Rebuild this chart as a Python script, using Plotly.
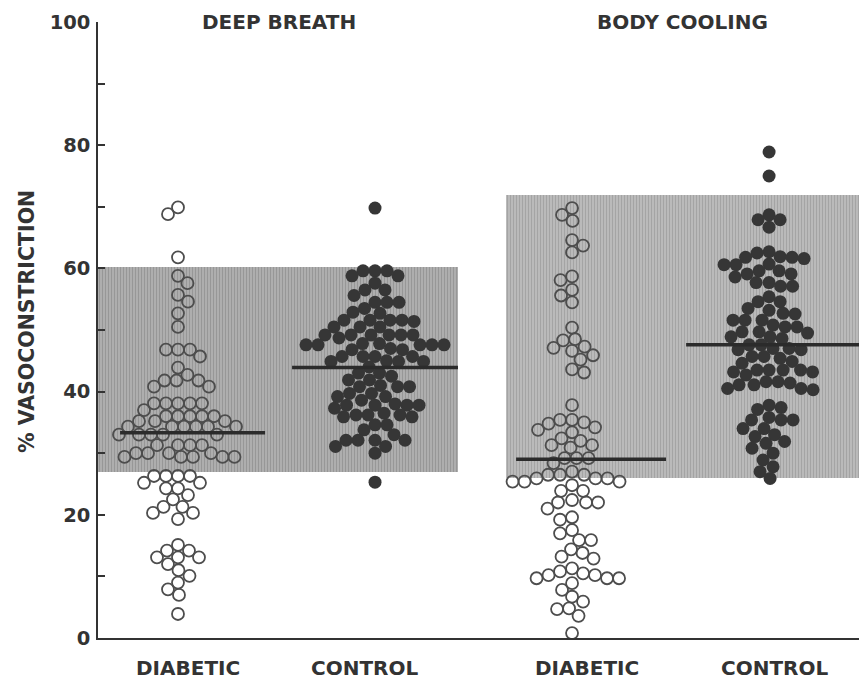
import plotly.graph_objects as go

# ---------------- data ----------------
panel_titles = ["DEEP BREATH", "BODY COOLING"]
group_labels = ["DIABETIC", "CONTROL", "DIABETIC", "CONTROL"]

db_diabetic = [69.9, 68.8, 61.8, 58.8, 57.6, 55.7, 54.6, 52.7, 50.5, 46.8, 46.8, 46.8,
               45.7, 43.9, 42.7, 41.8, 41.8, 41.8, 40.8, 40.8,
               38.1, 38.1, 38.1, 38.1, 38.1, 37.0, 36.0, 36.0, 36.0, 36.0, 36.0,
               35.2, 35.2, 35.2, 34.3, 34.3, 34.3, 34.3, 34.3, 34.3,
               33.0, 33.0, 33.0, 33.0, 33.0, 31.3, 31.3, 31.3, 31.3,
               30.0, 30.0, 30.0, 30.0, 29.4, 29.4, 29.4, 29.4, 29.4,
               26.3, 26.3, 26.3, 26.3, 25.2, 25.2, 24.3, 24.3, 23.2, 22.5,
               21.3, 21.3, 20.3, 20.3, 19.3,
               15.1, 14.2, 14.2, 13.1, 13.1, 13.1, 12.0, 11.0, 10.1, 9.0, 7.9, 7.0, 3.9]

db_control = [69.8, 59.6, 59.6, 59.6, 58.8, 58.8, 57.6, 56.5, 56.5, 55.6,
              54.5, 54.5, 54.5, 53.5, 52.9, 52.7, 51.6, 51.6, 51.6, 51.6, 51.4,
              50.5, 50.5, 50.5, 49.2, 49.2, 49.2, 49.2, 49.2, 49.2, 48.7, 47.8, 47.8,
              47.6, 47.6, 47.6, 47.6, 47.6, 47.0, 46.8, 46.8, 45.7, 45.7, 45.7, 45.7,
              45.0, 44.9, 44.9, 44.9, 44.0, 43.0, 43.0, 42.5, 41.9, 41.9, 41.0,
              40.8, 40.8, 40.8, 39.7, 39.7, 39.2, 39.2, 38.6, 38.0,
              37.8, 37.8, 37.8, 37.8, 37.3, 36.5, 36.2, 36.2, 36.2, 35.9, 35.9,
              34.6, 34.6, 33.8, 33.0, 32.1, 32.1, 32.1, 32.1, 31.1, 31.1, 30.0, 25.3]

bc_diabetic = [69.8, 68.7, 67.7, 64.6, 63.7, 62.6, 58.7, 58.1, 56.5, 55.6, 54.5, 50.4,
               48.5, 48.3, 47.3, 47.1, 46.6, 45.9, 45.2, 43.6, 43.1, 37.8,
               35.4, 35.4, 35.0, 34.8, 34.2, 33.8, 33.4, 32.4, 32.0, 31.3, 31.3, 30.9,
               29.2, 29.2, 29.2, 28.4,
               27.0, 26.5, 26.5, 26.5, 25.9, 25.9, 25.9, 25.4, 25.4, 25.4,
               24.8, 23.9, 23.9, 22.4, 22.0, 22.0, 22.0, 21.0, 19.6, 19.2, 17.5, 17.0,
               15.9, 15.9, 14.4, 13.8, 13.2, 12.9, 11.3, 10.8, 10.5, 10.2, 10.2,
               9.7, 9.7, 9.7, 8.9, 7.8, 6.7, 5.9, 4.8, 4.7, 3.6, 0.8]

bc_control = [78.9, 75.0, 68.7, 67.9, 67.9, 66.7,
              62.7, 62.5, 61.9, 61.8, 61.8, 61.6, 60.7, 60.6, 60.6, 59.6, 59.6, 59.1, 59.1, 58.6,
              57.7, 57.7, 57.1, 57.1, 55.4, 54.6, 54.6, 53.5, 53.2, 52.7, 52.6,
              51.6, 51.6, 51.6, 50.8, 50.5, 50.5, 49.7, 49.7, 49.5, 48.9, 48.9, 48.6,
              47.6, 47.6, 47.0, 47.0, 46.8, 46.8, 45.7, 45.7, 45.4, 44.9, 44.6,
              43.5, 43.5, 43.5, 43.5, 43.2, 43.2, 42.7, 41.6, 41.6, 41.4, 41.1, 41.1,
              40.5, 40.5, 40.3, 37.8, 37.4, 37.1, 35.8, 35.4, 35.4, 35.4, 34.0, 34.0,
              33.0, 32.7, 31.9, 31.6, 30.8, 30.0, 28.9, 27.8, 27.0, 25.9]

group_means = [33.3, 43.9, 29.0, 47.6]
band_low = [27.0, 26.0]
band_high = [60.3, 71.9]

series = [db_diabetic, db_control, bc_diabetic, bc_control]
filled = [False, True, False, True]

# ---------------- layout constants ----------------
# the page body adds an 8 px offset, so the figure is 8 px smaller each way
OFF = 8
W, H = 867 - OFF, 682 - OFF
ML, MR, MT, MB = 98 - OFF, 0, 22 - OFF, 44
XR = [0.594, 4.497]
YR = [0, 100]
plot_w = W - ML - MR
plot_h = H - MT - MB
px_x = plot_w / (XR[1] - XR[0])
px_y = plot_h / (YR[1] - YR[0])

centers = [1.0, 2.0, 3.0, 4.0]
band_x = [(XR[0], 2.421), (2.665, 4.487)]
mean_x = [(0.706, 1.442), (1.579, 2.421), (2.716, 3.477), (3.579, 4.487)]
panel_title_x = [1.513, 3.563]
label_x = [1.051, 1.949, 3.076, 4.03]

FONT = "DejaVu Sans"
INK = "#333333"


def swarm(values, center, d=12.0):
    """Beeswarm offsets: each point at the free spot closest to the centre."""
    order = sorted(range(len(values)), key=lambda i: -values[i])
    placed = []
    xs = [center] * len(values)
    for n, i in enumerate(order):
        ypx = values[i] * px_y
        near = [(px, qy) for px, qy in placed if abs(qy - ypx) < d]
        best = 0.0
        k = 0
        while True:
            off = k * 0.5
            cands = [off] if k == 0 else ([off, -off] if n % 2 == 0 else [-off, off])
            found = None
            for c in cands:
                if all((c - px) ** 2 + (ypx - qy) ** 2 >= d * d for px, qy in near):
                    found = c
                    break
            if found is not None:
                best = found
                break
            k += 1
        placed.append((best, ypx))
        xs[i] = center + best / px_x
    return xs


fig = go.Figure()

# shaded bands (vertical stripe pattern)
band_cols = [("#7b7b7b", "#b2b2b2"), ("#8c8c8c", "#bdbdbd")]
for j in range(2):
    x0, x1 = band_x[j]
    fg, bg = band_cols[j]
    fig.add_trace(go.Bar(
        x=[(x0 + x1) / 2], y=[band_high[j] - band_low[j]], base=[band_low[j]],
        width=[x1 - x0],
        marker=dict(color=bg, line=dict(width=0),
                    pattern=dict(shape="|", fgcolor=fg, bgcolor=bg, size=3, solidity=0.45)),
        hoverinfo="skip", showlegend=False))

# points
for g, vals in enumerate(series):
    xs = swarm(vals, centers[g])
    if filled[g]:
        marker = dict(symbol="circle", size=13, color="#363636", line=dict(width=0))
    else:
        marker = dict(symbol="circle-open", size=12, color="#4d4d4d", line=dict(width=1.8))
    fig.add_trace(go.Scatter(x=xs, y=vals, mode="markers", marker=marker,
                             cliponaxis=False, showlegend=False, hoverinfo="y"))

# mean lines
for g in range(4):
    x0, x1 = mean_x[g]
    fig.add_trace(go.Scatter(x=[x0, x1], y=[group_means[g]] * 2, mode="lines",
                             line=dict(color="#2b2b2b", width=3.5),
                             cliponaxis=False, showlegend=False, hoverinfo="skip"))

ann = []
for j in range(2):
    ann.append(dict(x=panel_title_x[j], y=100, xref="x", yref="y", text=panel_titles[j],
                    showarrow=False, yanchor="middle", xanchor="center",
                    font=dict(family=FONT, size=20, color=INK, weight="bold")))
for g in range(4):
    ann.append(dict(x=label_x[g], y=0, xref="x", yref="paper", yshift=-30, text=group_labels[g],
                    showarrow=False, yanchor="middle", xanchor="center",
                    font=dict(family=FONT, size=20, color=INK, weight="bold")))
ann.append(dict(x=(27 - OFF - ML) / plot_w, y=(H - MB - (322 - OFF)) / plot_h,
                xref="paper", yref="paper",
                text="% VASOCONSTRICTION", textangle=-90, showarrow=False,
                xanchor="center", yanchor="middle",
                font=dict(family=FONT, size=20.5, color=INK, weight="bold")))

tickvals = list(range(0, 101, 10))
ticktext = [str(v) if v % 20 == 0 else "" for v in tickvals]

fig.update_layout(
    width=W, height=H,
    margin=dict(l=ML, r=MR, t=MT, b=MB, pad=0),
    paper_bgcolor="white", plot_bgcolor="white",
    barmode="overlay", bargap=0,
    annotations=ann,
    xaxis=dict(range=XR, showgrid=False, zeroline=False, showticklabels=False,
               showline=True, linecolor=INK, linewidth=1.5, ticks=""),
    yaxis=dict(range=YR, showgrid=False, zeroline=False, showline=True,
               linecolor=INK, linewidth=1.5, ticks="inside", ticklen=7,
               tickwidth=1.5, tickcolor=INK, tickvals=tickvals, ticktext=ticktext,
               ticklabelstandoff=2,
               tickfont=dict(family=FONT, size=19.5, color=INK, weight="bold")),
)

fig.write_html("out.html")
